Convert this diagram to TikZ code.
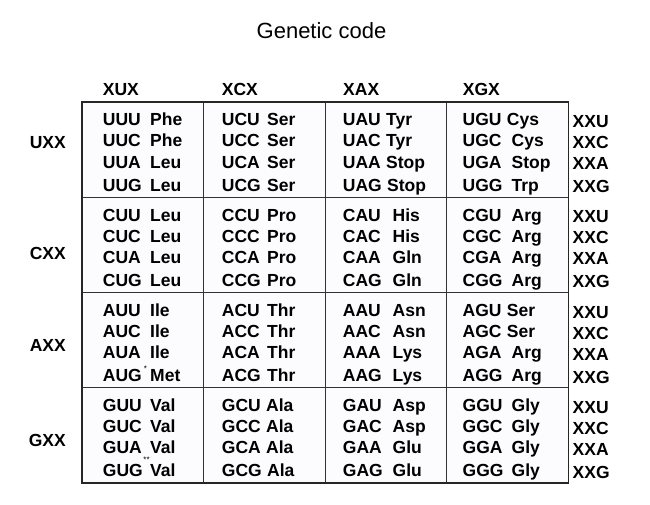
\documentclass[tikz,border=0pt]{standalone}
\usepackage{fontspec}
\setmainfont{Liberation Sans}
\usetikzlibrary{positioning}
\tikzset{
codon/.style={anchor=base west, inner sep=0pt, font=\bfseries\fontsize{17.5}{20}\selectfont},
amino/.style={codon},
rowlabel/.style={codon, anchor=base east},
footmark/.style={anchor=base, inner sep=0pt, font=\fontsize{8}{8}\selectfont},
border/.style={draw=black!85, line width=1.5pt},
divider/.style={draw=black!80, line width=1pt}
}
\def\idxU{0}\def\idxC{1}\def\idxA{2}\def\idxG{3}
\def\codonx{{102.7,221.7,342.7,462.5}}
\def\aminox{{150,267,392.5,511.5}}
\def\rowtop{{102,197.25,292.5,387.75}}
\def\linedy{{24,45,66,89}}

\begin{document}
\begin{tikzpicture}[x=1pt, y=-1pt]
\useasboundingbox (0,0) rectangle (650,505);
\node[font=\fontsize{22}{26}\selectfont] (title) at (321.5,30.5) {Genetic code};
\fill[blue!1] (82,102) rectangle (568.5,483);
\foreach \x in {203.5,325,446.5} \draw[divider] (\x,102) -- (\x,483);
\foreach \y in {197.25,292.5,387.75} \draw[divider] (82,\y) -- (568.5,\y);
\draw[border] (82,102) rectangle (568.5,483);
\foreach \b/\x in {U/102.7,C/221.7,A/343,G/462.7}
	\node[codon] (headX\b X) at (\x,96) {X\b X};
\foreach \a/\y in {U/149,C/259,A/351,G/446}
	\node[rowlabel] (row\a XX) at (66,\y) {\a XX};
\foreach \a/\top in {U/102,C/197.25,A/292.5,G/387.75}
	\foreach \c/\dy in {U/25.5,C/46.5,A/67.5,G/90.5}
		\node[codon] (end\a\c) at (572.5,\top+\dy) {XX\c};
\foreach \a/\b/\c/\aa/\g in {
	U/U/U/Phe/w, U/U/C/Phe/w, U/U/A/Leu/w, U/U/G/Leu/w,
	U/C/U/Ser/w, U/C/C/Ser/w, U/C/A/Ser/w, U/C/G/Ser/w,
	U/A/U/Tyr/n, U/A/C/Tyr/n, U/A/A/Stop/n, U/A/G/Stop/n,
	U/G/U/Cys/n, U/G/C/Cys/w, U/G/A/Stop/w, U/G/G/Trp/w,
	C/U/U/Leu/w, C/U/C/Leu/w, C/U/A/Leu/w, C/U/G/Leu/w,
	C/C/U/Pro/w, C/C/C/Pro/w, C/C/A/Pro/w, C/C/G/Pro/w,
	C/A/U/His/w, C/A/C/His/w, C/A/A/Gln/w, C/A/G/Gln/w,
	C/G/U/Arg/w, C/G/C/Arg/w, C/G/A/Arg/w, C/G/G/Arg/w,
	A/U/U/Ile/w, A/U/C/Ile/w, A/U/A/Ile/w, A/U/G/Met/w,
	A/C/U/Thr/w, A/C/C/Thr/w, A/C/A/Thr/w, A/C/G/Thr/w,
	A/A/U/Asn/w, A/A/C/Asn/w, A/A/A/Lys/w, A/A/G/Lys/w,
	A/G/U/Ser/n, A/G/C/Ser/n, A/G/A/Arg/w, A/G/G/Arg/w,
	G/U/U/Val/w, G/U/C/Val/w, G/U/A/Val/w, G/U/G/Val/w,
	G/C/U/Ala/n, G/C/C/Ala/n, G/C/A/Ala/n, G/C/G/Ala/n,
	G/A/U/Asp/w, G/A/C/Asp/w, G/A/A/Glu/w, G/A/G/Glu/w,
	G/G/U/Gly/w, G/G/C/Gly/w, G/G/A/Gly/w, G/G/G/Gly/w}{
	\pgfmathsetmacro\cx{\codonx[\csname idx\b\endcsname]}
	\pgfmathsetmacro\ax{\aminox[\csname idx\b\endcsname]}
	\pgfmathsetmacro\by{\rowtop[\csname idx\a\endcsname]+\linedy[\csname idx\c\endcsname]}
	\node[codon] (\a\b\c) at (\cx,\by) {\a\b\c};
	\if\g w
		\node[amino] (aa\a\b\c) at (\ax,\by) {\aa};
	\else
		\node[amino, right=5pt of \a\b\c.base east, anchor=base west] (aa\a\b\c) {\aa};
	\fi
}
\node[footmark] (metnote) at (145.5,371) {*};
\node[footmark] (valnote) at (146.5,462) {**};
\end{tikzpicture}
\end{document}
